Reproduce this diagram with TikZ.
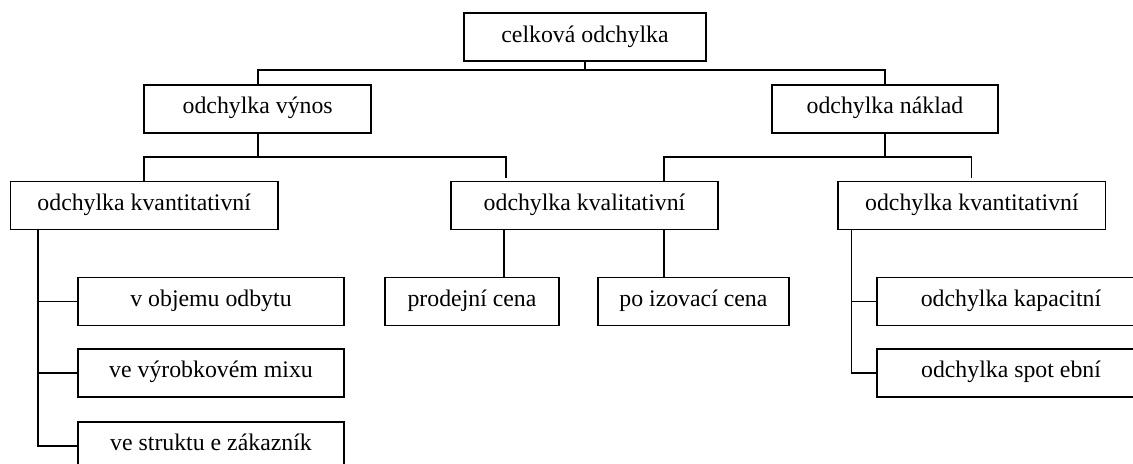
\documentclass[tikz,border=0pt]{standalone}
\usepackage{fontspec}
\setmainfont{Liberation Serif}
\begin{document}
\begin{tikzpicture}[x=0.75pt,y=-0.75pt,
  box/.style={draw, line width=1.35pt, inner sep=0pt, minimum height=36pt,
    text height=0.74em, text depth=0pt,
    font=\fontsize{17.85pt}{21pt}\selectfont},
  link/.style={line width=1.35pt}]
\useasboundingbox (0,0) rectangle (1133,464);

% boxes
\node[box, minimum width=181pt]   (root)   at (585,37.2)    {celková odchylka};
\node[box, minimum width=170pt]   (vynos)  at (257.7,108.9) {odchylka výnos};
\node[box, minimum width=170pt]   (naklad) at (885,108.9)   {odchylka náklad};
\node[box, minimum width=200.5pt] (kvantL) at (144.2,205.5) {odchylka kvantitativní};
\node[box, minimum width=200.5pt] (kval)   at (584.5,205.5) {odchylka kvalitativní};
\node[box, minimum width=200.5pt] (kvantR) at (971.9,205.5) {odchylka kvantitativní};
\node[box, minimum width=130.5pt] (prod)   at (472,301.5)   {prodejní cena};
\node[box, minimum width=143.5pt] (poriz)  at (693.4,301.5) {po izovací cena};
\node[box, minimum width=200pt]   (leafA)  at (211,301.5)   {v objemu odbytu};
\node[box, minimum width=200pt]   (leafB)  at (211,373)     {ve výrobkovém mixu};
\node[box, minimum width=200pt]   (leafC)  at (211,445.7)   {ve struktu e zákazník};
\node[box, minimum width=200.7pt] (leafD)  at (1011,301.5)  {odchylka kapacitní};
\node[box, minimum width=200.7pt] (leafE)  at (1011,373)    {odchylka spot ební};

% junction points and free ends
\coordinate (j1) at (585,69.7);
\coordinate (j2) at (257.7,156.7);
\coordinate (j3) at (885,156.7);
\coordinate (e1) at (506,178);
\coordinate (e2) at (971.5,178.3);
\coordinate (p1) at (504.3,0);
\coordinate (q1) at (664.3,0);
\coordinate (s1) at (37.7,0);
\coordinate (s2) at (851.4,0);

% level 1
\draw[link] (root.south) -- (j1);
\draw[link] (vynos.north) |- (j1) -| (naklad.north);

% level 2 left
\draw[link] (vynos.south) -- (j2);
\draw[link] (kvantL.north) |- (j2) -| (e1);

% level 2 right
\draw[link] (naklad.south) -- (j3);
\draw[link] (kval.north -| q1) |- (j3) -| (e2);

% qualitative leaves
\draw[link] (kval.south -| p1) -- (prod.north -| p1);
\draw[link] (kval.south -| q1) -- (poriz.north -| q1);

% left quantitative leaves
\draw[link] (kvantL.south -| s1) |- (leafC.west);
\draw[link] (s1 |- leafA.west) -- (leafA.west);
\draw[link] (s1 |- leafB.west) -- (leafB.west);

% right quantitative leaves
\draw[link] (kvantR.south -| s2) |- (leafE.west);
\draw[link] (s2 |- leafD.west) -- (leafD.west);
\end{tikzpicture}
\end{document}
